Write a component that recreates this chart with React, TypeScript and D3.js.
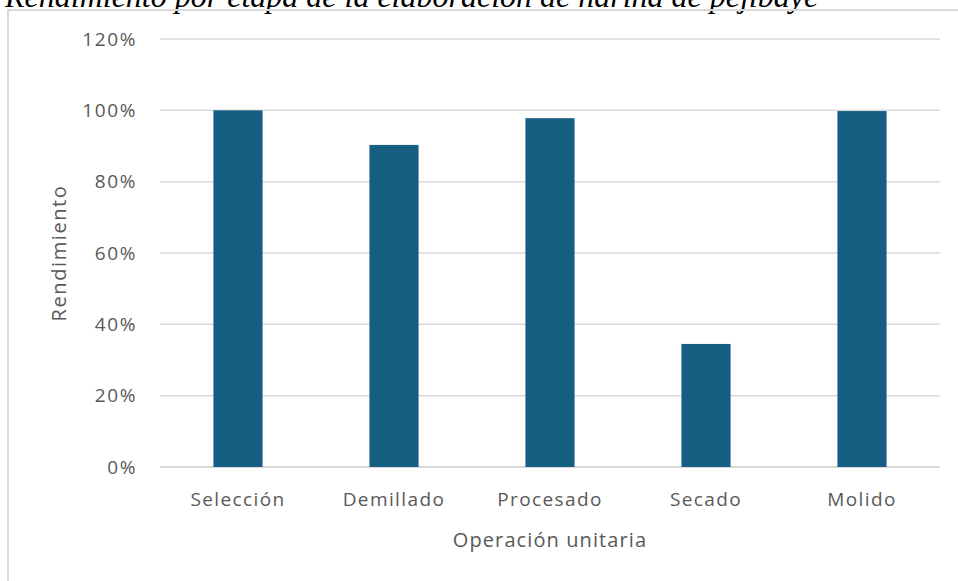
import React from "react";
import * as d3 from "d3";

const categories: string[] = ["Selección", "Demillado", "Procesado", "Secado", "Molido"];
const values: number[] = [1.0, 0.903, 0.978, 0.345, 0.998];
const yTicks: number[] = [0, 0.2, 0.4, 0.6, 0.8, 1.0, 1.2];
const title = "Rendimiento por etapa de la elaboración de harina de pejibaye";
const xTitle = "Operación unitaria";
const yTitle = "Rendimiento";

const W = 958;
const H = 581;
const plot = { left: 160, right: 940, top: 39, bottom: 467 };
const FONT = "'Open Sans', 'Noto Sans', sans-serif";
const TEXT = "#595959";
const GRID = "#d9d9d9";
const BAR = "#156082";

export default function App() {
  const x = d3
    .scaleBand<string>()
    .domain(categories)
    .range([plot.left, plot.right])
    .paddingInner(0.685)
    .paddingOuter(0.3425);
  const y = d3.scaleLinear().domain([0, 1.2]).range([plot.bottom, plot.top]);
  const fmt = d3.format(".0%");

  return (
    <div style={{ position: "absolute", left: 0, top: 0, width: W, height: H, background: "#fff" }}>
      <svg width={W} height={H} style={{ display: "block" }}>
        <rect x={0} y={0} width={W} height={H} fill="#fff" />
        <text
          x={5}
          y={7}
          fontFamily="'Liberation Serif', 'Times New Roman', serif"
          fontStyle="italic"
          fontSize={32}
          fill="#000"
        >
          {title}
        </text>
        <rect x={8} y={10} width={W + 20} height={H + 20} fill="none" stroke={GRID} strokeWidth={2} />
        {yTicks.map((t) => (
          <g key={t}>
            <line
              x1={plot.left}
              x2={plot.right}
              y1={y(t)}
              y2={y(t)}
              stroke={GRID}
              strokeWidth={t === 0 ? 2 : 1.5}
            />
            <text
              x={137}
              y={y(t)}
              dy="0.35em"
              textAnchor="end"
              fontFamily={FONT}
              fontSize={19}
              letterSpacing={1.6}
              fill={TEXT}
            >
              {fmt(t)}
            </text>
          </g>
        ))}
        {categories.map((c, i) => (
          <g key={c}>
            <rect
              x={x(c)!}
              y={y(values[i])}
              width={x.bandwidth()}
              height={y(0) - y(values[i])}
              fill={BAR}
            />
            <text
              x={x(c)! + x.bandwidth() / 2}
              y={506}
              textAnchor="middle"
              fontFamily={FONT}
              fontSize={19}
              letterSpacing={1.4}
              fill={TEXT}
            >
              {c}
            </text>
          </g>
        ))}
        <text
          x={(plot.left + plot.right) / 2}
          y={547}
          textAnchor="middle"
          fontFamily={FONT}
          fontSize={20}
          letterSpacing={1.1}
          fill={TEXT}
        >
          {xTitle}
        </text>
        <text
          transform={`translate(66, ${(plot.top + plot.bottom) / 2}) rotate(-90)`}
          textAnchor="middle"
          fontFamily={FONT}
          fontSize={20}
          letterSpacing={1.6}
          fill={TEXT}
        >
          {yTitle}
        </text>
      </svg>
    </div>
  );
}
